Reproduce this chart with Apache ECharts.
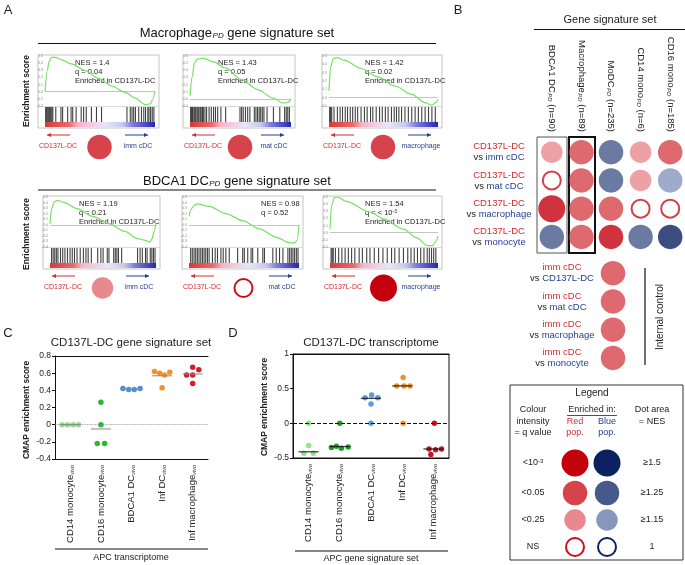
<!DOCTYPE html>
<html>
<head>
<meta charset="utf-8">
<script src="https://cdn.jsdelivr.net/npm/echarts@6/dist/echarts.min.js"></script>
<style>html,body{margin:0;padding:0;background:#fff}#main{width:685px;height:565px}</style>
</head>
<body>
<div id="main"></div>
<script>
const FONT = '"Liberation Sans", Arial, Helvetica, sans-serif'
const RED_TXT = '#d42a30', BLUE_TXT = '#243f8f'

// ---- panel A: running enrichment score [rank %, ES] and hit positions (rank %)
const esMacImm = [[0,0],[2.1,0.30],[3.7,0.42],[5.8,0.48],[9.8,0.48],[14.4,0.45],[23.9,0.39],[36.1,0.30],[48.3,0.19],[60.6,0.08],[72.8,-0.01],[82,-0.09],[91.1,-0.18],[95.7,-0.17],[97.9,-0.11],[100,0.01]]
const esMacMat = [[0,0.04],[2.2,0.31],[4.4,0.5],[7.6,0.56],[13.2,0.57],[22.7,0.52],[35.3,0.43],[51.1,0.27],[66.9,0.13],[82.6,0.01],[92.1,-0.06],[96.8,-0.05],[100,0]]
const esMacMac = [[0,0.08],[1.5,0.37],[4,0.47],[7.7,0.48],[13.9,0.45],[29.4,0.35],[44.9,0.25],[60.4,0.14],[75.9,0.04],[88.2,-0.06],[94.4,-0.09],[98.1,-0.06],[100,-0.02]]
const esBdcImm = [[0,0.02],[1.5,0.29],[3.9,0.41],[6.9,0.44],[13.5,0.40],[25.5,0.29],[40.5,0.15],[55.6,0.02],[70.6,-0.12],[82.6,-0.25],[90.1,-0.28],[94,-0.31],[96.1,-0.26],[98.2,-0.12],[100,0.03]]
const esBdcMat = [[0,0.15],[1.5,0.27],[4.6,0.35],[7.6,0.375],[18.3,0.33],[33.5,0.2],[48.8,0.075],[64,-0.075],[79.3,-0.225],[91.5,-0.325],[96,-0.325],[98.2,-0.275],[100,0]]
const esBdcMac = [[0,0.05],[1.5,0.38],[4,0.49],[7,0.5],[15,0.44],[37,0.29],[50,0.19],[68,0.05],[80,-0.07],[90,-0.18],[95,-0.18],[98,-0.12],[100,-0.05]]

const hitsMacImm = [0.6,1.5,2.5,3.4,4.3,5.2,6.2,7.1,9.8,14.5,16,20.6,23.7,25.2,28.3,32.9,35.1,37.5,42.2,46.8,51.4,74.5,77.5,79.1,80.6,82.2,85.2,87.7,89.8,91.4,93.5,94.5,96,97.5,99]
const hitsMacMat = [0.6,1.6,2.5,3.8,4.7,5.7,6.9,7.9,8.8,10.1,11,12.3,13.2,14.8,16.4,18.9,21.1,23.3,25.2,27.4,30.6,35.3,49.5,51.1,52.7,54.9,57.1,59.3,63.7,65.3,66.9,68.5,70,71.6,73.2,76.3,82.6,88.9,93.7,95.3,96.8,98.4]
const hitsMacMac = [0.6,1.5,2.5,4.6,7.7,10.2,12.4,14.9,17,19.5,21.7,24.1,26.3,29.4,32.5,35,38.1,40.2,43.3,46.4,48.9,51.7,54.2,57.3,59.8,61.9,64.1,66.6,69.7,72.8,75.9,79,82,85.1,88.2,91.3,94.4,97.5]
const hitsBdcImm = [1.5,3,4.5,6,7.5,9.9,12,14.1,16.5,18.9,21,23.1,25.5,28.5,31.5,33.9,36,39,45,48,50.1,54,55.6,60.1,61.6,63.1,64.6,67.6,82.6,85,87.1,90.1,91.6,94.6,96.1,97.6,99.1]
const hitsBdcMat = [1.5,3,4.6,6.1,7.6,9.1,10.7,12.2,13.7,15.2,16.8,18.3,21.3,23.8,25.9,29,31.1,33.5,36.6,44.2,48.8,50.3,53.4,56.4,57.9,62.5,67.1,68.6,76.2,79.3,82.3,85.4,89.9,91.5,93,94.5,96,97.6,99.1]
const hitsBdcMac = [1,2,3,5,8,11,14,17,20,23,27,30,34,37,41,45,49,53,57,60,64,68,72,75,78,81,84,87,90,92,94,96,98]

const gseaNes = [1.4, 1.43, 1.42, 1.19, 0.98, 1.54]
const gseaQ = [0.04, 0.05, 0.02, 0.21, 0.52, 0.0009]
const gseaQText = ['0.04', '0.05', '0.02', '0.21', '0.52', '< 10{sup|-3}']
const gseaVs = ['imm cDC', 'mat cDC', 'macrophage', 'imm cDC', 'mat cDC', 'macrophage']

// ---- panel B
const bCols = ['BDCA1 DC', 'Macrophage', 'MoDC', 'CD14 mono', 'CD16 mono']
const bColN = [90, 89, 235, 6, 185]
const bRowsVs = ['imm cDC', 'mat cDC', 'macrophage', 'monocyte']
const bNes = [[1.19,1.40,-1.40,1.20,1.36],[0.98,1.43,-1.48,1.18,-1.26],[1.54,1.42,1.38,0.95,0.92],[-1.30,1.40,1.45,-1.28,-1.45]]
const bQ = [[0.21,0.04,0.03,0.15,0.03],[0.52,0.05,0.01,0.2,0.12],[0.0005,0.02,0.03,0.6,0.7],[0.03,0.02,0.0008,0.04,0.0006]]
const ctrlVs = ['CD137L-DC', 'mat cDC', 'macrophage', 'monocyte']
const ctrlNes = [1.45, 1.42, 1.44, 1.43]
const ctrlQ = [0.01, 0.02, 0.01, 0.01]
const legendQText = ['<10{sup|-3}', '<0.05', '<0.25', 'NS']
const legendQ = [0.0005, 0.04, 0.2, 0.5]
const legendNesText = ['≥1.5', '≥1.25', '≥1.15', '1']
const legendNes = [1.5, 1.25, 1.15, 1]

// ---- panels C and D
const apcCats = ['CD14 monocyte', 'CD16 monocyte', 'BDCA1 DC', 'Inf DC', 'Inf macrophage']
const cColors = ['#92e38c', '#30b630', '#4d8fd6', '#f0922b', '#cf1f2e']
const cVals = [[0,0,0,0],[0.26,0,-0.22,-0.22],[0.42,0.41,0.41,0.42],[0.62,0.60,0.58,0.61,0.43],[0.58,0.67,0.58,0.64,0.48]]
const cJit = [[-0.27,-0.09,0.09,0.27],[0,0,-0.12,0.12],[-0.28,-0.09,0.09,0.28],[-0.25,-0.08,0.08,0.25,0],[-0.2,0,0,0.2,0]]
const cMed = [0, -0.05, 0.415, 0.57, 0.59]
const dColors = ['#92e38c', '#1f9e2a', '#5b9be0', '#f0922b', '#c8142a']
const dVals = [[0,-0.32,-0.43,-0.43],[0,-0.35,-0.33,-0.36,-0.34],[0.41,0.37,0.37,0.28,0],[0.66,0.54,0.54,0.54,0],[0,-0.37,-0.38,-0.37,-0.45]]
const dJit = [[0,0,-0.15,0.15],[0,-0.27,-0.11,0.05,0.27],[0.02,-0.19,0.22,0,0],[0.03,-0.18,0.06,0.25,0.03],[0.03,-0.14,0.07,0.26,-0.08]]
const dMed = [-0.41, -0.335, 0.36, 0.54, -0.37]

// colour = q value, size = NES
function dotStyle(nes, q) {
  const a = Math.abs(nes), red = nes > 0
  const size = a >= 1.5 ? 27 : a >= 1.25 ? 24.5 : a >= 1.15 ? 21.5 : 20
  if (q >= 0.25) return {size: size - 2, fill: '#fff', stroke: red ? '#c8101a' : '#0b2166', lw: 2}
  const lvl = q < 0.001 ? 0 : q <= 0.05 ? 1 : 2
  const reds = ['#c4000c', '#d6434b', '#e8898f'], blues = ['#0b2161', '#46598b', '#8796bd']
  const c = (red ? reds : blues)[lvl]
  return {size, fill: c, stroke: c, lw: 0}
}

const grids = [], xAxes = [], yAxes = [], series = [], gfx = []
function grid(g) { grids.push(g); return grids.length - 1 }
function xax(a) { xAxes.push(a); return xAxes.length - 1 }
function yax(a) { yAxes.push(a); return yAxes.length - 1 }

function txt(x, y, text, o) {
  o = o || {}
  return {type: 'text', x, y, rotation: o.rot || 0, style: {text, fontSize: o.fs || 9, fontFamily: FONT,
    fontWeight: o.bold ? 'bold' : 'normal', fill: o.color || '#222', align: o.align || 'center',
    verticalAlign: 'middle', rich: o.rich}}
}
function subRich(fs, color) {
  return {
    a: {fontSize: fs, fontFamily: FONT, fill: color, color: color},
    s: {fontSize: Math.round(fs * 0.62), fontStyle: 'italic', fontFamily: FONT, fill: color, color: color, verticalAlign: 'bottom', padding: [0, 0, 0, 0.5]},
    sup: {fontSize: Math.round(fs * 0.62), fontFamily: FONT, fill: color, color: color, verticalAlign: 'top'}
  }
}
function line(x1, y1, x2, y2, w, c) {
  return {type: 'line', shape: {x1, y1, x2, y2}, style: {stroke: c || '#111', lineWidth: w || 1}}
}
function arrow(x1, x2, y, color, headLeft) {
  const hx = headLeft ? x1 : x2, d = headLeft ? 1 : -1
  return [line(x1, y, x2, y, 1, color),
    {type: 'polygon', shape: {points: [[hx, y], [hx + 4 * d, y - 2], [hx + 4 * d, y + 2]]}, style: {fill: color}}]
}
function dot(cx, cy, nes, q) {
  const s = dotStyle(nes, q)
  return {type: 'circle', shape: {cx, cy, r: s.size / 2}, style: {fill: s.fill, stroke: s.lw ? s.stroke : null, lineWidth: s.lw}}
}

// ---------------- panel A
const gseaPlots = [
  {L: 38, R: 159, T: 55, es: esMacImm, hits: hitsMacImm, yr: [-0.2, 0.5], tx: 75},
  {L: 183, R: 295, T: 55, es: esMacMat, hits: hitsMacMat, yr: [-0.1, 0.6], tx: 218},
  {L: 322, R: 442, T: 55, es: esMacMac, hits: hitsMacMac, yr: [-0.1, 0.5], tx: 365},
  {L: 43, R: 160, T: 196, es: esBdcImm, hits: hitsBdcImm, yr: [-0.4, 0.5], tx: 79},
  {L: 182, R: 303, T: 196, es: esBdcMat, hits: hitsBdcMat, yr: [-0.4, 0.5], tx: 261},
  {L: 323, R: 442, T: 196, es: esBdcMac, hits: hitsBdcMac, yr: [-0.2, 0.5], tx: 365}
]
const gradStops = [[0, '#d83a3a'], [0.22, '#ea6a6a'], [0.3, '#f4b4c8'], [0.45, '#f2d2e8'], [0.55, '#e6e6f6'], [0.7, '#c8c8f0'], [0.8, '#7c7cdc'], [1, '#2626b4']]

gseaPlots.forEach((p, k) => {
  const iL = p.L + 7, iW = p.R - 4 - iL
  let g = grid({left: iL, top: p.T + 1, width: iW, height: 50})
  let xi = xax({gridIndex: g, type: 'value', min: 0, max: 100, show: false})
  let yi = yax({gridIndex: g, type: 'value', min: p.yr[0], max: p.yr[1], interval: 0.1,
    axisLine: {show: false}, axisTick: {show: false}, splitLine: {show: false},
    axisLabel: {fontSize: 3.5, color: '#888', margin: 2, formatter: v => (Math.abs(v) < 1e-9 ? 0 : v).toFixed(1)}})
  series.push({type: 'line', xAxisIndex: xi, yAxisIndex: yi, data: p.es, symbol: 'none', smooth: 0.3, smoothMonotone: 'x',
    lineStyle: {color: '#76e062', width: 1.2}, silent: true,
    markLine: {silent: true, symbol: 'none', label: {show: false}, lineStyle: {color: '#b5b5b5', width: 0.8, type: 'solid'}, data: [{yAxis: 0}]}})
  g = grid({left: iL, top: p.T + 52, width: iW, height: 15})
  xi = xax({gridIndex: g, type: 'value', min: 0, max: 100, show: false})
  yi = yax({gridIndex: g, type: 'value', min: 0, max: 1, show: false})
  series.push({type: 'scatter', xAxisIndex: xi, yAxisIndex: yi, data: p.hits.map(h => [h, 0.5]), symbol: 'rect',
    symbolSize: [1.1, 15], itemStyle: {color: '#111', opacity: 0.8}, silent: true})

  gfx.push({type: 'rect', shape: {x: p.L, y: p.T, width: p.R - p.L, height: 73}, style: {fill: null, stroke: '#c4c4c4', lineWidth: 1}})
  gfx.push(line(p.L, p.T + 51.5, p.R, p.T + 51.5, 0.8, '#cfcfcf'))
  gfx.push({type: 'rect', shape: {x: iL, y: p.T + 67, width: iW, height: 5},
    style: {fill: new echarts.graphic.LinearGradient(0, 0, 1, 0, gradStops.map(s => ({offset: s[0], color: s[1]})))}})
  // annotation
  const ann = ['NES = ' + gseaNes[k], 'q = ' + gseaQText[k]]
  if (gseaQ[k] < 0.25) ann.push('Enriched in CD137L-DC')
  ann.forEach((t, i) => gfx.push(txt(p.tx, p.T + 8 + i * 9, t, {fs: 7.5, align: 'left', rich: subRich(7.5, '#222')})))
  // arrows, labels, summary dot
  gfx.push(...arrow(p.L + 9, p.L + 32, p.T + 80, '#d42a30', true))
  gfx.push(...arrow(p.R - 34, p.R - 11, p.T + 80, '#243f8f', false))
  gfx.push(txt(p.L + 20, p.T + 91, 'CD137L-DC', {fs: 7, color: RED_TXT}))
  gfx.push(txt(p.R - 21, p.T + 91, gseaVs[k], {fs: 7, color: BLUE_TXT}))
  gfx.push(dot((p.L + p.R) / 2 + 1, p.T + 92, gseaNes[k], gseaQ[k]))
})

gfx.push(txt(8, 10, 'A', {fs: 13}))
gfx.push(txt(237, 33, '{a|Macrophage}{s|PD}{a| gene signature set}', {fs: 13, rich: subRich(13, '#111')}))
gfx.push(line(38, 43.5, 436, 43.5, 1.2))
gfx.push(txt(237, 181, '{a|BDCA1 DC}{s|PD}{a| gene signature set}', {fs: 13, rich: subRich(13, '#111')}))
gfx.push(line(38, 190, 436, 190, 1.2))
gfx.push(txt(27, 91, 'Enrichment score', {fs: 8.5, bold: true, rot: Math.PI / 2}))
gfx.push(txt(27, 234, 'Enrichment score', {fs: 8.5, bold: true, rot: Math.PI / 2}))

// ---------------- panel B
const rowRich = {
  r: {fontSize: 9.5, color: RED_TXT, lineHeight: 11, fontFamily: FONT},
  k: {fontSize: 9.5, color: '#222', lineHeight: 11, fontFamily: FONT},
  b: {fontSize: 9.5, color: BLUE_TXT, lineHeight: 11, fontFamily: FONT}
}
function dotItem(c, r, nes, q) {
  const s = dotStyle(nes, q)
  return {value: [c, r], symbolSize: s.size, itemStyle: {color: s.fill, borderColor: s.stroke, borderWidth: s.lw}}
}
let g = grid({left: 537, top: 138, width: 152, height: 113})
let xi = xax({gridIndex: g, type: 'category', data: bCols, position: 'top', axisLine: {show: false}, axisTick: {show: false},
  axisLabel: {rotate: 90, margin: 6, interval: 0, formatter: (v, i) => '{a|' + v + '}{s|PD}{a| (n=' + bColN[i] + ')}', rich: subRich(9.5, '#222')}})
let yi = yax({gridIndex: g, type: 'category', data: bRowsVs, inverse: true, axisLine: {show: false}, axisTick: {show: false},
  axisLabel: {align: 'center', margin: 38, interval: 0, formatter: v => '{r|CD137L-DC}\n{k|vs }{b|' + v + '}', rich: rowRich}})
series.push({type: 'scatter', xAxisIndex: xi, yAxisIndex: yi, silent: true,
  data: bNes.flatMap((row, r) => row.map((n, c) => dotItem(c, r, n, bQ[r][c])))})

g = grid({left: 598, top: 259, width: 30, height: 113})
xi = xax({gridIndex: g, type: 'category', data: ['ctrl'], show: false})
yi = yax({gridIndex: g, type: 'category', data: ctrlVs, inverse: true, axisLine: {show: false}, axisTick: {show: false},
  axisLabel: {align: 'center', margin: 36, interval: 0, formatter: v => '{r|imm cDC}\n{k|vs }{b|' + v + '}', rich: rowRich}})
series.push({type: 'scatter', xAxisIndex: xi, yAxisIndex: yi, silent: true,
  data: ctrlNes.map((n, r) => dotItem(0, r, n, ctrlQ[r]))})

gfx.push(txt(458, 10, 'B', {fs: 13}))
gfx.push(txt(610, 20, 'Gene signature set', {fs: 11}))
gfx.push(line(534, 29.5, 685, 29.5, 1.2))
gfx.push({type: 'rect', shape: {x: 537, y: 137, width: 30, height: 116}, style: {fill: null, stroke: '#555', lineWidth: 1}})
gfx.push({type: 'rect', shape: {x: 569, y: 137, width: 26, height: 116}, style: {fill: null, stroke: '#111', lineWidth: 2}})
gfx.push(line(645, 268, 645, 365, 1.2))
gfx.push(txt(660, 317, 'Internal control', {fs: 10, rot: Math.PI / 2}))

// legend box
gfx.push({type: 'rect', shape: {x: 510, y: 385, width: 173, height: 175}, style: {fill: null, stroke: '#333', lineWidth: 1}})
gfx.push(txt(592, 393, 'Legend', {fs: 10}))
;['Colour', 'intensity', '= q value'].forEach((t, i) => gfx.push(txt(533, 410 + i * 11.5, t, {fs: 9})))
gfx.push(txt(592, 410, 'Enriched in:', {fs: 9}))
gfx.push(line(567, 415.5, 617, 415.5, 0.8, '#222'))
gfx.push(txt(575, 421.5, 'Red', {fs: 9, color: RED_TXT}))
gfx.push(txt(575, 433, 'pop.', {fs: 9, color: RED_TXT}))
gfx.push(txt(607, 421.5, 'Blue', {fs: 9, color: BLUE_TXT}))
gfx.push(txt(607, 433, 'pop.', {fs: 9, color: BLUE_TXT}))
gfx.push(txt(652, 410, 'Dot area', {fs: 9}))
gfx.push(txt(652, 421.5, '= NES', {fs: 9}))
const legY = [463, 493, 520, 547]
legY.forEach((y, i) => {
  gfx.push(txt(533, y, legendQText[i], {fs: 9, rich: subRich(9, '#222')}))
  gfx.push(dot(575, y, legendNes[i], legendQ[i]))
  gfx.push(dot(607, y, -legendNes[i], legendQ[i]))
  gfx.push(txt(652, y, legendNesText[i], {fs: 9}))
})

// ---------------- panels C and D
const catRich = {
  n: {fontSize: 9.5, color: '#222', fontFamily: FONT},
  s: {fontSize: 5.5, color: '#222', fontStyle: 'italic', fontFamily: FONT, verticalAlign: 'bottom'}
}
function stripPanel(box, yr, step, vals, jit, colors, med, medColor, zeroStyle, bordered) {
  const gi = grid({left: box[0], top: box[1], width: box[2], height: box[3], show: bordered, borderColor: '#111', borderWidth: 1})
  xax({gridIndex: gi, type: 'category', data: apcCats, position: 'bottom',
    axisLine: {onZero: false, lineStyle: {color: '#111'}}, axisTick: {alignWithLabel: true, length: 3, lineStyle: {color: '#111'}},
    axisLabel: {rotate: 90, margin: 6, interval: 0, formatter: v => '{n|' + v + '}{s|vivo}', rich: catRich}})
  const vx = xax({gridIndex: gi, type: 'value', min: -0.5, max: 4.5, position: 'top',
    axisLine: {show: true, onZero: false, lineStyle: {color: '#111'}}, axisTick: {show: false}, axisLabel: {show: false}, splitLine: {show: false}})
  const vy = yax({gridIndex: gi, type: 'value', min: yr[0], max: yr[1], interval: step, position: 'left',
    axisLine: {show: true, onZero: false, lineStyle: {color: '#111'}}, axisTick: {show: true, length: 3, lineStyle: {color: '#111'}}, splitLine: {show: false},
    axisLabel: {fontSize: 8.5, color: '#222', margin: 4}})
  vals.forEach((arr, i) => {
    series.push({type: 'scatter', xAxisIndex: vx, yAxisIndex: vy, symbolSize: 5.5, silent: true,
      itemStyle: {color: colors[i], opacity: 1}, data: arr.map((v, j) => [i + jit[i][j], v]),
      markLine: i === 0 ? {silent: true, symbol: 'none', label: {show: false}, lineStyle: zeroStyle, data: [{yAxis: 0}]} : undefined})
  })
  series.push({type: 'scatter', xAxisIndex: vx, yAxisIndex: vy, symbol: 'rect', symbolSize: [20, 1.3], silent: true, z: 3,
    itemStyle: {color: medColor}, data: med.map((m, i) => [i, m])})
}
stripPanel([55, 356, 153, 103], [-0.4, 0.8], 0.2, cVals, cJit, cColors, cMed, '#8a8a8a',
  {color: '#888', width: 0.8, type: 'dotted'}, false)
stripPanel([293, 354, 156, 104], [-0.5, 1], 0.5, dVals, dJit, dColors, dMed, '#111',
  {color: '#111', width: 1, type: 'dashed'}, true)

gfx.push(txt(8, 333, 'C', {fs: 13}))
gfx.push(txt(131, 343, 'CD137L-DC gene signature set', {fs: 11.5}))
gfx.push(txt(27, 410, 'CMAP enrichment score', {fs: 8.5, bold: true, rot: Math.PI / 2}))
gfx.push(line(55, 549, 208, 549, 1))
gfx.push(txt(131, 558, 'APC transcriptome', {fs: 9}))
gfx.push(txt(233, 333, 'D', {fs: 13}))
gfx.push(txt(371, 343, 'CD137L-DC transcriptome', {fs: 11.5}))
gfx.push(txt(265, 407, 'CMAP enrichment score', {fs: 8.5, bold: true, rot: Math.PI / 2}))
gfx.push(line(295, 551, 448, 551, 1))
gfx.push(txt(371, 559, 'APC gene signature set', {fs: 9}))

const chart = echarts.init(document.getElementById('main'))
chart.setOption({
  animation: false,
  backgroundColor: '#fff',
  textStyle: {fontFamily: FONT},
  grid: grids,
  xAxis: xAxes,
  yAxis: yAxes,
  series: series,
  graphic: {elements: gfx}
})
</script>
</body>
</html>
